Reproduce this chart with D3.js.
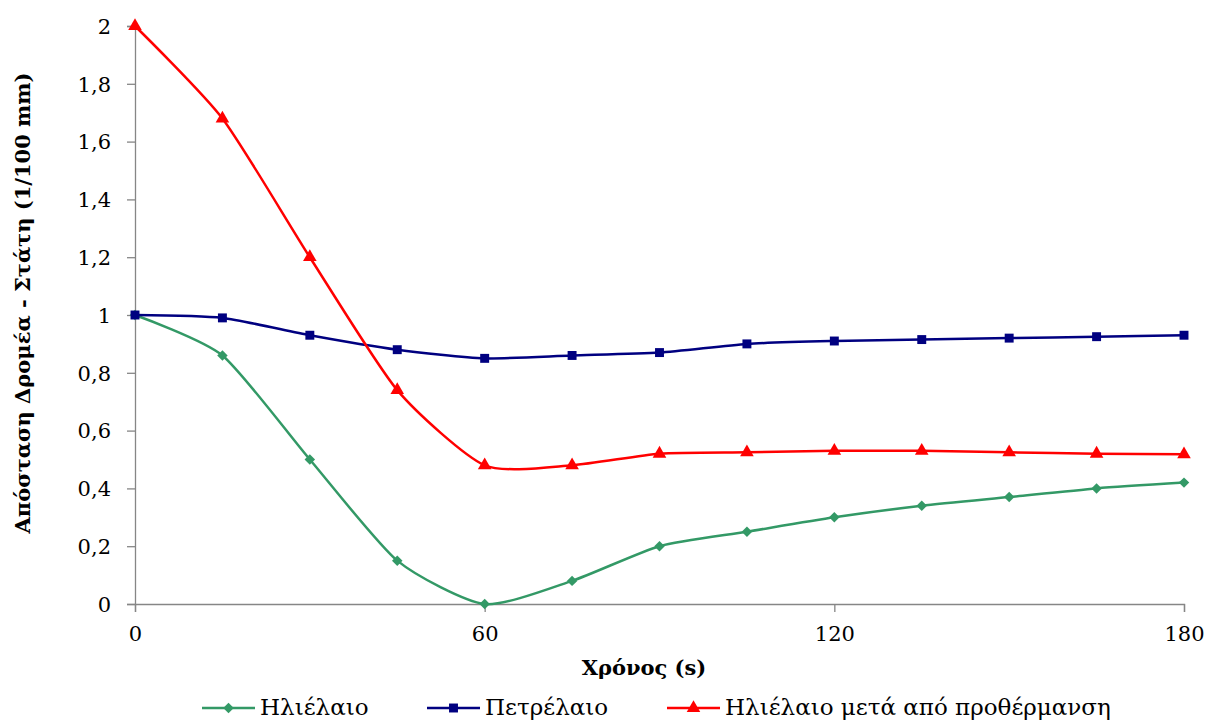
<!DOCTYPE html>
<meta charset="utf-8">
<style>
body { margin: 0; background: #fff; }
</style>
<body>
<script src="https://cdn.jsdelivr.net/npm/d3@7"></script>
<script>
// data
var times = [0, 15, 30, 45, 60, 75, 90, 105, 120, 135, 150, 165, 180];
var sunflower = [1.0, 0.86, 0.5, 0.15, 0.0, 0.08, 0.2, 0.25, 0.3, 0.34, 0.37, 0.40, 0.42];
var kerosene = [1.0, 0.99, 0.93, 0.88, 0.85, 0.86, 0.87, 0.90, 0.91, 0.915, 0.92, 0.925, 0.93];
var preheated = [2.0, 1.68, 1.2, 0.74, 0.48, 0.48, 0.52, 0.525, 0.53, 0.53, 0.525, 0.52, 0.518];
var seriesNames = ["Ηλιέλαιο", "Πετρέλαιο", "Ηλιέλαιο μετά από προθέρμανση"];
var xTicks = [0, 60, 120, 180];
var yTicks = [0, 0.2, 0.4, 0.6, 0.8, 1, 1.2, 1.4, 1.6, 1.8, 2];

var W = 1206, H = 722;
var margin = {left: 135, right: 22, top: 26, bottom: 118};
var serif = "'DejaVu Serif', 'Liberation Serif', serif";

var series = [
  {name: seriesNames[0], values: sunflower, color: "#339966", marker: "diamond"},
  {name: seriesNames[1], values: kerosene, color: "#000080", marker: "square"},
  {name: seriesNames[2], values: preheated, color: "#ff0000", marker: "triangle"}
];

var svg = d3.select("body").append("svg").attr("width", W).attr("height", H);

var x = d3.scaleLinear().domain([0, 180]).range([margin.left, W - margin.right]);
var y = d3.scaleLinear().domain([0, 2]).range([H - margin.bottom, margin.top]);

var fmt = function(d) { return String(d).replace(".", ","); };

function styleAxis(g) {
  g.attr("font-family", serif).attr("font-size", 21);
  g.selectAll("path, line").attr("stroke", "#868686").attr("stroke-width", 1.3);
  g.selectAll("text").attr("fill", "#000")
      .style("font-family", serif).style("font-size", "21px");
}

var gy = svg.append("g")
    .attr("transform", "translate(" + margin.left + ",0)")
    .call(d3.axisLeft(y).tickValues(yTicks).tickFormat(fmt).tickSizeOuter(0).tickSize(8).tickPadding(16))
    .call(styleAxis);
gy.selectAll("text").attr("dy", "0.35em");

var gx = svg.append("g")
    .attr("transform", "translate(0," + y(0) + ")")
    .call(d3.axisBottom(x).tickValues(xTicks).tickFormat(d3.format("d")).tickSizeOuter(0).tickSize(8).tickPadding(14))
    .call(styleAxis);

// axis titles
svg.append("text")
    .attr("x", 644).attr("y", 675)
    .attr("text-anchor", "middle")
    .style("font-family", serif).style("font-size", "21px").style("font-weight", "bold")
    .text("Χρόνος (s)");

svg.append("text")
    .attr("transform", "translate(30,303) rotate(-90)")
    .attr("text-anchor", "middle")
    .style("font-family", serif).style("font-size", "21px").style("font-weight", "bold")
    .text("Απόσταση Δρομέα - Στάτη (1/100 mm)");

var line = d3.line()
    .x(function(d, i) { return x(times[i]); })
    .y(function(d) { return y(d); })
    .curve(d3.curveCardinal.tension(0.35));

var symbolOf = {
  diamond: d3.symbol().type(d3.symbolDiamond2).size(70),
  square: d3.symbol().type(d3.symbolSquare).size(80),
  triangle: d3.symbol().type(d3.symbolTriangle).size(80)
};

series.forEach(function(s) {
  svg.append("path")
      .attr("d", line(s.values))
      .attr("fill", "none")
      .attr("stroke", s.color)
      .attr("stroke-width", 2.5);

  svg.selectAll(null)
      .data(s.values)
    .enter().append("path")
      .attr("transform", function(d, i) { return "translate(" + x(times[i]) + "," + y(d) + ")"; })
      .attr("d", symbolOf[s.marker])
      .attr("fill", s.color);
});

// legend
var legendX = [202, 427, 667];
var legend = svg.selectAll(".legend")
    .data(series)
  .enter().append("g")
    .attr("transform", function(d, i) { return "translate(" + legendX[i] + ",708)"; });

legend.append("line")
    .attr("x1", 0).attr("x2", 53).attr("y1", 0).attr("y2", 0)
    .attr("stroke", function(d) { return d.color; })
    .attr("stroke-width", 2.5);

legend.append("path")
    .attr("transform", "translate(26.5,0)")
    .attr("d", function(d) { return symbolOf[d.marker](); })
    .attr("fill", function(d) { return d.color; });

legend.append("text")
    .attr("x", 58).attr("y", 7)
    .style("font-family", serif).style("font-size", "23px")
    .text(function(d) { return d.name; });
</script>
</body>
